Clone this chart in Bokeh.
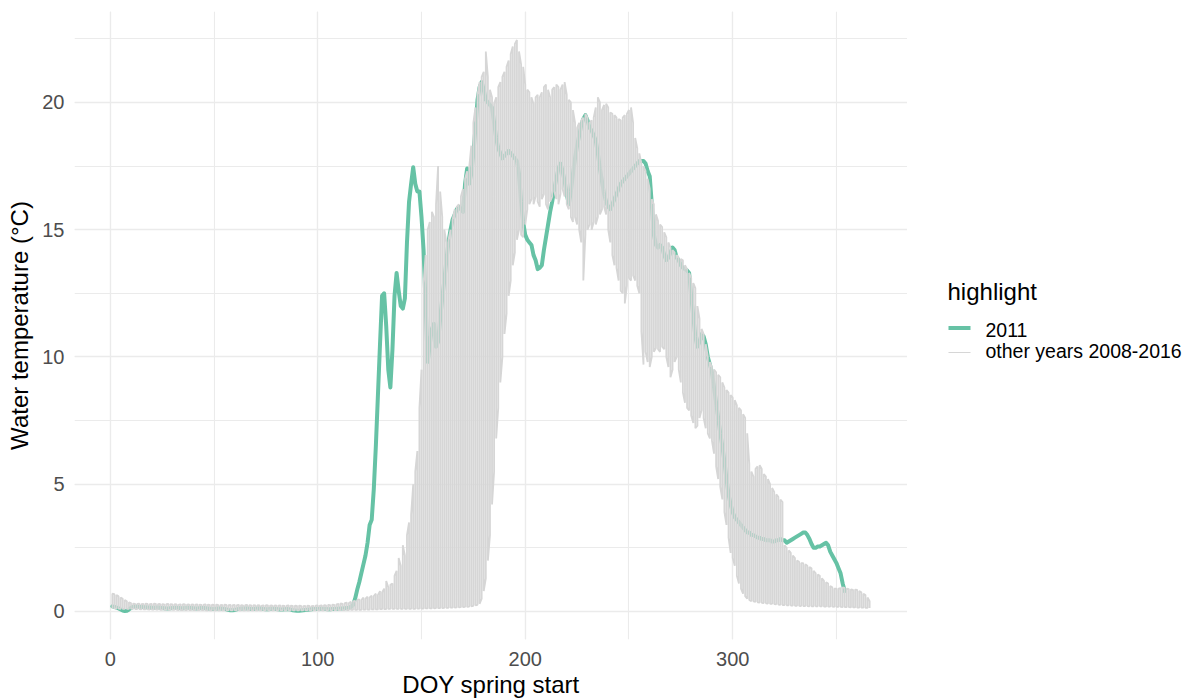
from bokeh.plotting import figure
from bokeh.models import Range1d, SingleIntervalTicker
from bokeh.layouts import row
from bokeh.core.properties import value
from bokeh.embed import file_html
from bokeh.resources import INLINE

# ---------------- data ----------------
# day of year for the "other years" envelope
days_other = list(range(1, 367))
# day of year for the highlighted 2011 series
days_2011 = list(range(1, 355))

temp_2011 = [
    0.20, 0.18, 0.15, 0.12, 0.08, 0.04, 0.02, 0.03, 0.08, 0.14,
    0.18, 0.20, 0.19, 0.18, 0.18, 0.17, 0.17, 0.16, 0.16, 0.15,
    0.15, 0.16, 0.16, 0.15, 0.14, 0.13, 0.12, 0.12, 0.13, 0.14,
    0.15, 0.15, 0.14, 0.13, 0.13, 0.14, 0.15, 0.15, 0.14, 0.13,
    0.12, 0.12, 0.13, 0.14, 0.14, 0.13, 0.12, 0.11, 0.10, 0.10,
    0.11, 0.12, 0.12, 0.11, 0.10, 0.08, 0.06, 0.05, 0.05, 0.06,
    0.08, 0.10, 0.11, 0.12, 0.12, 0.12, 0.11, 0.10, 0.10, 0.11,
    0.12, 0.12, 0.11, 0.10, 0.09, 0.09, 0.10, 0.11, 0.11, 0.10,
    0.09, 0.08, 0.08, 0.09, 0.10, 0.09, 0.07, 0.05, 0.04, 0.03,
    0.03, 0.04, 0.05, 0.06, 0.07, 0.08, 0.09, 0.10, 0.10, 0.10,
    0.11, 0.11, 0.10, 0.10, 0.09, 0.09, 0.10, 0.10, 0.11, 0.11,
    0.12, 0.12, 0.13, 0.14, 0.15, 0.18,
    0.25, 0.50, 0.85, 1.15, 1.50, 1.85, 2.20, 2.70, 3.40, 3.60,
    4.80, 6.50, 8.50, 10.5, 12.4, 12.5, 11.2, 9.50, 8.80, 10.3,
    12.4, 13.3, 12.6, 12.0, 11.9, 12.3, 14.5, 16.1, 16.8, 17.45,
    16.8, 16.5, 16.5, 15.5, 14.2, 12.0, 9.80, 10.5, 11.1, 11.3,
    10.4, 10.6, 11.5, 12.3, 13.0, 13.8, 14.5, 15.0, 15.4, 15.6,
    15.8, 15.9, 15.8, 15.7, 16.8, 17.4, 16.8, 17.2, 18.0, 19.0,
    20.1, 20.6, 20.8, 20.5, 20.1, 20.0, 19.9, 19.8, 19.2, 18.6,
    18.2, 18.0, 17.8, 17.9, 18.0, 18.1, 18.0, 17.9, 17.8, 17.7,
    17.2, 16.1, 15.3, 14.8, 14.6, 14.5, 14.4, 14.0, 13.8, 13.45,
    13.5, 13.6, 14.2, 14.7, 15.2, 15.7, 16.1, 16.6, 17.0, 17.4,
    17.6, 17.3, 16.9, 16.4, 16.0, 16.5, 17.2, 17.8, 18.3, 18.7,
    19.1, 19.35, 19.5, 19.3, 19.0, 18.9, 18.7, 18.5, 18.0, 17.4,
    16.9, 16.4, 16.1, 15.9, 15.8, 16.0, 16.2, 16.4, 16.6, 16.8,
    16.9, 17.0, 17.1, 17.2, 17.3, 17.4, 17.5, 17.6, 17.7, 17.7,
    17.7, 17.6, 17.3, 17.1, 16.0, 14.8, 14.4, 14.3, 14.4, 14.3,
    14.0, 13.8, 13.9, 14.1, 14.3, 14.2, 13.9, 13.8, 13.6, 13.5,
    13.45, 13.4, 13.3, 12.4, 11.6, 10.8, 10.4, 10.6, 10.9, 10.8,
    10.5, 10.0, 9.7, 9.4, 8.8, 8.2, 7.6, 7.0, 6.5, 5.9,
    5.2, 4.6, 4.2, 3.9, 3.7, 3.6, 3.5, 3.4, 3.3, 3.2,
    3.1, 3.1, 3.0, 3.0, 2.95, 2.9, 2.9, 2.85, 2.85, 2.8,
    2.8, 2.8, 2.75, 2.75, 2.8, 2.8, 2.85, 2.8, 2.8, 2.7,
    2.75, 2.8, 2.85, 2.9, 2.95, 3.0, 3.05, 3.1, 3.1, 3.0,
    2.85, 2.65, 2.5, 2.5, 2.55, 2.55, 2.6, 2.65, 2.7, 2.6,
    2.35, 2.2, 2.05, 1.9, 1.7, 1.5, 1.1, 0.8,
]

# daily lowest value among the other years 2008-2016
other_low = [
    0.12, 0.12, 0.11, 0.11, 0.10, 0.10, 0.10, 0.10, 0.10, 0.10,
    0.10, 0.09, 0.09, 0.09, 0.08, 0.08, 0.08, 0.08, 0.07, 0.07,
    0.07, 0.07, 0.07, 0.06, 0.06, 0.06, 0.06, 0.06, 0.06, 0.06,
    0.06, 0.06, 0.05, 0.05, 0.05, 0.05, 0.05, 0.05, 0.05, 0.05,
    0.05, 0.05, 0.05, 0.05, 0.05, 0.04, 0.04, 0.04, 0.04, 0.04,
    0.04, 0.04, 0.04, 0.04, 0.04, 0.04, 0.04, 0.04, 0.04, 0.04,
    0.04, 0.04, 0.04, 0.04, 0.04, 0.04, 0.04, 0.04, 0.04, 0.04,
    0.04, 0.04, 0.04, 0.04, 0.04, 0.04, 0.04, 0.04, 0.04, 0.04,
    0.04, 0.04, 0.04, 0.04, 0.04, 0.04, 0.04, 0.04, 0.04, 0.04,
    0.04, 0.04, 0.04, 0.04, 0.04, 0.04, 0.04, 0.04, 0.04, 0.04,
    0.04, 0.04, 0.04, 0.04, 0.04, 0.04, 0.05, 0.05, 0.05, 0.05,
    0.05, 0.05, 0.05, 0.05, 0.05, 0.06, 0.06, 0.06, 0.06, 0.06,
    0.06, 0.07, 0.07, 0.07, 0.07, 0.08, 0.08, 0.08, 0.08, 0.09,
    0.09, 0.09, 0.09, 0.10, 0.10, 0.10, 0.10, 0.10, 0.10, 0.10,
    0.10, 0.10, 0.10, 0.10, 0.10, 0.10, 0.10, 0.11, 0.11, 0.11,
    0.11, 0.12, 0.12, 0.12, 0.12, 0.12, 0.13, 0.13, 0.13, 0.13,
    0.14, 0.14, 0.14, 0.15, 0.15, 0.15, 0.16, 0.16, 0.17, 0.17,
    0.18, 0.18, 0.19, 0.20, 0.22, 0.24, 0.26,
    0.30, 0.50, 0.80, 1.30, 2.00, 3.00, 4.20, 5.50, 6.80, 8.00,
    9.00, 10.0, 10.9, 11.7, 12.4, 13.0, 13.6, 14.1, 14.6, 15.0,
    14.8, 14.7, 15.2,
    15.8, 16.0, 16.2, 16.0, 16.3, 16.1, 15.9, 16.2, 16.4, 16.0,
    15.8, 16.1, 16.3, 16.5, 16.2, 16.0, 16.4, 16.6, 16.3, 16.0,
    15.8, 15.5, 15.3, 15.5, 15.2, 15.0, 14.5, 13.0, 14.8, 15.0,
    15.2, 15.0, 15.3, 15.2, 15.5, 15.6, 15.8, 15.9, 15.6, 15.0,
    14.5, 14.0, 13.6, 13.5, 13.0, 12.6, 12.5, 12.1, 12.8, 13.1,
    13.0, 13.2, 13.0, 12.8, 12.5, 11.0, 9.7, 10.2, 9.8, 9.6,
    10.0, 10.2, 10.35, 10.3, 10.2, 10.4, 10.3, 10.0, 9.6, 9.2,
    9.5, 9.8, 10.0, 9.5, 9.0, 8.6, 8.2, 8.0, 7.9, 7.7,
    7.4, 7.2, 7.3, 7.6, 7.9, 7.6, 7.2, 7.0, 6.8, 6.7,
    6.2, 5.7, 5.2, 4.9, 4.4, 3.9, 3.4, 2.9, 2.3, 2.1,
    1.8, 1.4, 1.1, 0.9, 0.7, 0.6, 0.5, 0.45, 0.4, 0.4,
    0.38, 0.36, 0.35, 0.34, 0.33, 0.32, 0.31, 0.30, 0.30, 0.29,
    0.28, 0.27, 0.26, 0.25, 0.25, 0.24, 0.24, 0.23, 0.23, 0.22,
    0.22, 0.22, 0.21, 0.21, 0.21, 0.21, 0.20, 0.20, 0.20, 0.20,
    0.20, 0.20, 0.20, 0.19, 0.19, 0.19, 0.19, 0.19, 0.18, 0.18,
    0.18, 0.18, 0.17, 0.17, 0.17, 0.17, 0.16, 0.16, 0.16, 0.15,
    0.15, 0.15, 0.15, 0.14, 0.14, 0.14,
]

# daily highest value among the other years 2008-2016
other_high = [
    0.70, 0.68, 0.65, 0.60, 0.55, 0.50, 0.45, 0.40, 0.36, 0.33,
    0.31, 0.30, 0.30, 0.31, 0.29, 0.30, 0.31, 0.30, 0.29, 0.30,
    0.31, 0.30, 0.29, 0.30, 0.29, 0.28, 0.29, 0.30, 0.29, 0.28,
    0.29, 0.28, 0.27, 0.28, 0.29, 0.28, 0.27, 0.28, 0.27, 0.28,
    0.27, 0.28, 0.27, 0.26, 0.27, 0.28, 0.27, 0.26, 0.27, 0.26,
    0.27, 0.26, 0.25, 0.26, 0.27, 0.26, 0.25, 0.26, 0.25, 0.26,
    0.25, 0.26, 0.25, 0.24, 0.25, 0.26, 0.25, 0.24, 0.25, 0.24,
    0.25, 0.24, 0.23, 0.24, 0.25, 0.24, 0.23, 0.24, 0.23, 0.24,
    0.23, 0.24, 0.23, 0.22, 0.23, 0.24, 0.23, 0.22, 0.23, 0.22,
    0.23, 0.22, 0.21, 0.22, 0.23, 0.22, 0.21, 0.22, 0.23, 0.24,
    0.23, 0.24, 0.25, 0.24, 0.26, 0.25, 0.27, 0.26, 0.28, 0.30,
    0.32, 0.30, 0.33, 0.35, 0.33, 0.38, 0.40, 0.42, 0.45, 0.48,
    0.45, 0.55, 0.50, 0.58, 0.55, 0.62, 0.60, 0.70, 0.65, 0.80,
    0.75, 0.90, 1.20, 0.95, 1.05, 1.10, 1.40, 1.60, 2.10, 1.80,
    2.60, 2.20, 3.00, 3.50, 3.80, 5.00, 5.50, 6.30, 8.00, 9.50,
    12.9, 14.0, 15.0, 15.3, 15.7, 15.5, 16.0, 17.5, 16.5, 15.5,
    15.0, 14.5, 14.6, 15.0, 15.4, 15.8, 15.9, 16.0, 16.3, 16.6,
    17.0, 17.3, 17.45, 18.3, 19.2, 19.8, 20.3, 20.8, 21.0, 21.2,
    22.0, 21.0, 20.5, 20.2, 19.95, 20.2, 20.6, 20.8, 21.0, 21.2,
    21.4, 21.65, 21.9, 22.2, 22.3, 22.45, 22.0, 21.5, 21.4, 20.7,
    20.5, 20.4, 20.2, 19.95, 20.2, 20.3, 20.2, 20.4, 20.6, 20.7,
    20.5, 20.2, 20.5, 20.6, 20.7, 20.6, 20.5, 20.7, 20.8, 20.3,
    20.1, 20.0, 19.7, 19.2, 19.0, 19.2, 19.3, 19.4, 19.55, 19.4,
    19.2, 19.3, 19.4, 19.8, 20.2, 20.0, 19.7, 19.9, 19.95, 19.8,
    19.6, 19.55, 19.5, 19.4, 19.35, 19.3, 19.4, 19.5, 19.55, 19.7,
    19.8, 19.2, 18.6, 18.2, 18.0, 17.6, 17.5, 17.3, 17.0, 16.6,
    16.2, 16.0, 15.6, 15.35, 15.2, 15.1, 14.9, 14.7, 14.5, 14.3,
    14.2, 14.1, 14.0, 13.9, 13.85, 13.8, 13.6, 13.45, 13.3, 13.1,
    12.9, 12.7, 12.0, 11.5, 11.1, 10.9, 10.5, 10.0, 9.8, 9.6,
    9.5, 9.4, 9.3, 9.2, 9.0, 8.8, 8.7, 8.6, 8.5, 8.4,
    8.3, 8.1, 8.0, 7.9, 7.75, 7.6, 7.0, 5.8, 5.5, 5.3,
    5.6, 5.7, 5.75, 5.6, 5.4, 5.3, 5.2, 5.0, 4.85, 4.7,
    4.6, 4.5, 4.4, 4.3, 2.6, 2.5, 2.4, 2.3, 2.2, 2.1,
    2.0, 1.95, 1.9, 1.9, 1.85, 1.8, 1.75, 1.7, 1.6, 1.5,
    1.45, 1.4, 1.3, 1.2, 1.15, 1.1, 1.0, 0.95, 0.9, 0.9,
    0.9, 0.92, 0.95, 0.93, 0.9, 0.88, 0.87, 0.85, 0.86, 0.85,
    0.8, 0.75, 0.7, 0.65, 0.55, 0.4,
]

legend_title = "highlight"
series_labels = ["2011", "other years 2008-2016"]
series_colors = ["#66C2A5", "#D6D6D6"]
x_ticks_interval = 100
y_ticks_interval = 5

# ---------------- build the zig-zag line of the other years ----------------
gx, gy = [], []
for i, d in enumerate(days_other):
    a, b = (other_low[i], other_high[i]) if i % 2 == 0 else (other_high[i], other_low[i])
    gx += [d, d]
    gy += [a, b]

xmin = min(days_other + days_2011)
xmax = max(days_other + days_2011)
ymin = min(other_low + temp_2011)
ymax = max(other_high + temp_2011)
xpad = 0.05 * (xmax - xmin)
ypad = 0.05 * (ymax - ymin)

FONT = "Liberation Sans"
TOTAL_H = 684

p = figure(frame_width=833, frame_height=628, output_backend="svg", toolbar_location=None,
           x_range=Range1d(xmin - xpad, xmax + xpad),
           y_range=Range1d(ymin - ypad, ymax + ypad),
           min_border_left=74, min_border_right=0, min_border_top=11, min_border_bottom=45)
p.outline_line_color = None
p.background_fill_color = "white"
p.border_fill_color = "white"

p.xaxis.ticker = SingleIntervalTicker(interval=x_ticks_interval, num_minor_ticks=2)
p.yaxis.ticker = SingleIntervalTicker(interval=y_ticks_interval, num_minor_ticks=2)

for g in (p.xgrid, p.ygrid):
    g.grid_line_color = "#EBEBEB"
    g.grid_line_width = 1.3
    g.minor_grid_line_color = "#EBEBEB"
    g.minor_grid_line_width = 1.1

for ax in (p.xaxis, p.yaxis):
    ax.axis_line_color = None
    ax.major_tick_line_color = None
    ax.minor_tick_line_color = None
    ax.major_tick_out = 0
    ax.major_label_text_font = FONT
    ax.major_label_text_font_size = "20px"
    ax.major_label_text_color = "#4D4D4D"
    ax.axis_label_text_font = FONT
    ax.axis_label_text_font_size = "24px"
    ax.axis_label_text_font_style = "normal"
    ax.axis_label_text_color = "black"

p.xaxis.axis_label = "DOY spring start"
p.yaxis.axis_label = "Water temperature (°C)"
p.xaxis.major_label_standoff = 8
p.xaxis.axis_label_standoff = 2
p.yaxis.major_label_standoff = 6
p.yaxis.axis_label_standoff = 6

p.line(days_2011, temp_2011, line_color=series_colors[0], line_width=4,
       line_join="round", line_cap="round")
p.line(gx, gy, line_color=series_colors[1], line_width=1.8)

# ---------------- legend panel (separate figure, pixel coordinates) ----------------
LW = 277
lg = figure(frame_width=LW, frame_height=TOTAL_H, output_backend="svg", toolbar_location=None,
            x_range=Range1d(0, LW), y_range=Range1d(0, TOTAL_H),
            x_axis_type=None, y_axis_type=None,
            min_border_left=0, min_border_right=0, min_border_top=0, min_border_bottom=0)
lg.outline_line_color = None
lg.xgrid.visible = False
lg.ygrid.visible = False
lg.background_fill_color = "white"
lg.border_fill_color = "white"

# title
lg.text(x=[40], y=[TOTAL_H - 280], text=[legend_title], text_font=value(FONT),
        text_font_size="24px", text_color="black", text_baseline="alphabetic", text_align="left")
# keys and labels
key_y = [TOTAL_H - 316.5, TOTAL_H - 341]
label_y = [TOTAL_H - 318, TOTAL_H - 339]
key_w = [4, 1.2]
for k in range(2):
    lg.line([41, 63], [key_y[k], key_y[k]], line_color=series_colors[k], line_width=key_w[k])
lg.text(x=[78, 78], y=label_y, text=series_labels, text_font=value(FONT),
        text_font_size="19.5px", text_color="black", text_baseline="middle", text_align="left")

layout = row(p, lg, spacing=0)
open("out.html", "w").write(file_html(layout, INLINE))
